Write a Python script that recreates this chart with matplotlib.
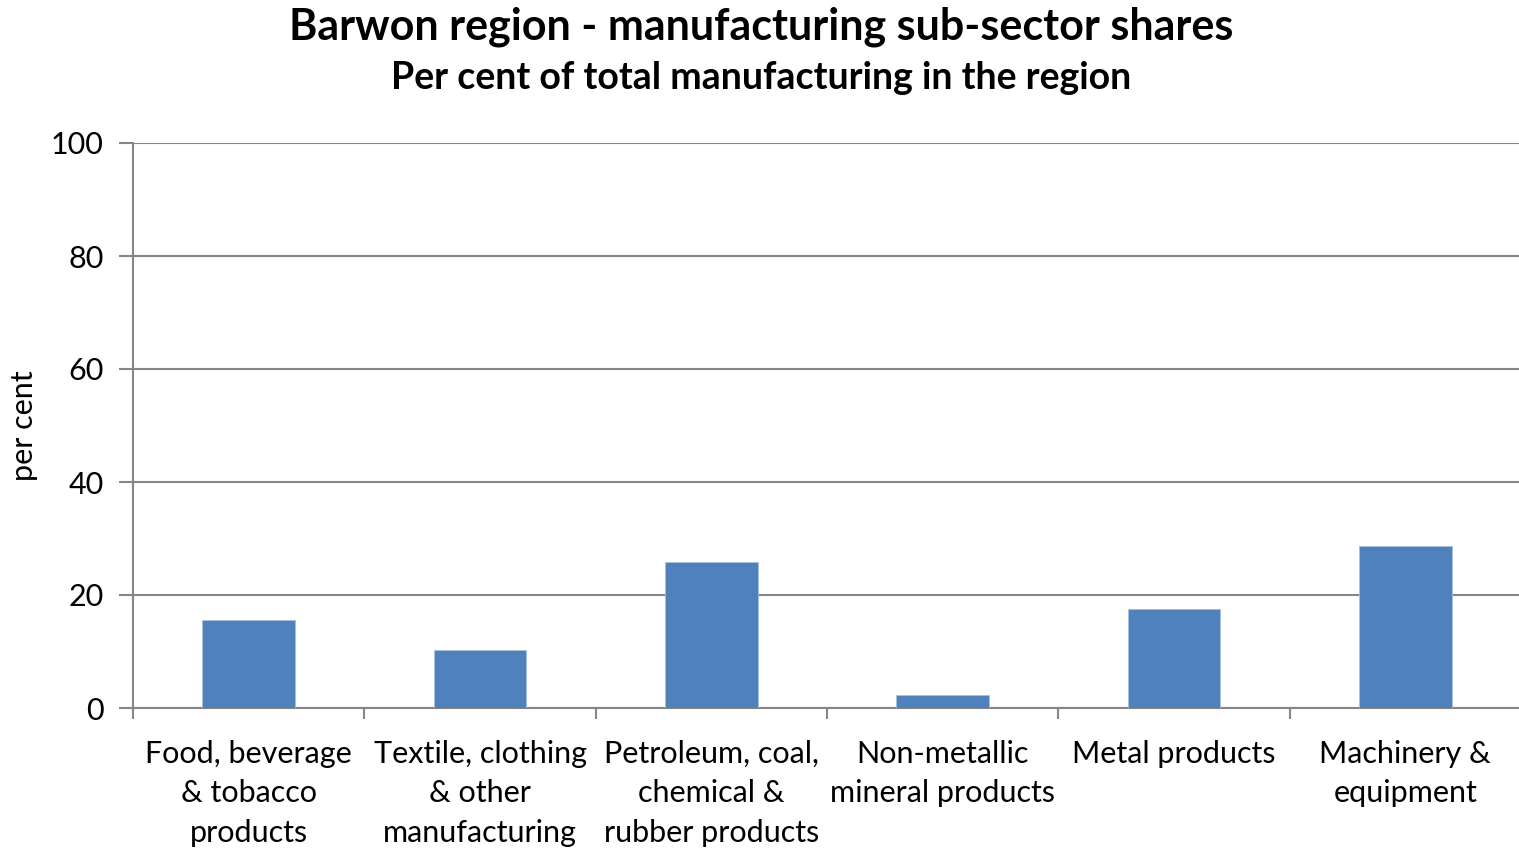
import matplotlib
matplotlib.use("Agg")
import matplotlib.pyplot as plt
import numpy as np

categories = [
    "Food, beverage\n& tobacco\nproducts",
    "Textile, clothing\n& other\nmanufacturing",
    "Petroleum, coal,\nchemical &\nrubber products",
    "Non-metallic\nmineral products",
    "Metal products",
    "Machinery &\nequipment",
]
shares = [15.5, 10.2, 25.9, 2.3, 17.6, 28.6]
y_ticks = [0, 20, 40, 60, 80, 100]

plt.rcParams["font.family"] = ["Lato", "DejaVu Sans"]

fig = plt.figure(figsize=(15.19, 8.48), dpi=100)
ax = fig.add_axes([133 / 1519, 1 - 708 / 848, (1521 - 133) / 1519, (708 - 143) / 848])

x = np.arange(len(categories))
ax.bar(x, shares, width=0.4, color="#4F81BD", edgecolor="#A7C0DE", linewidth=0.6, zorder=3)

grid_c = "#868686"
ax.set_xlim(-0.5, len(categories) - 0.5)
ax.set_ylim(0, 100)
ax.set_yticks(y_ticks)
ax.set_yticklabels([str(v) for v in y_ticks], fontsize=22)
ax.yaxis.grid(True, color=grid_c, linewidth=1.5, zorder=0)
ax.set_xticks(np.arange(len(categories) + 1) - 0.5, minor=True)
ax.set_xticks(x)
ax.set_xticklabels(categories, fontsize=22, linespacing=1.5)
ax.tick_params(axis="x", which="major", length=0, pad=23)
ax.tick_params(axis="x", which="minor", length=8, width=1.5, color=grid_c)
ax.tick_params(axis="y", length=10, width=1.5, color=grid_c, pad=11)
for side in ["top", "right"]:
    ax.spines[side].set_visible(False)
for side in ["left", "bottom"]:
    ax.spines[side].set_color(grid_c)
    ax.spines[side].set_linewidth(1.5)
ax.set_ylabel("per cent", fontsize=22, labelpad=9)

fig.text(0.501, 1 - 27 / 848, "Barwon region - manufacturing sub-sector shares",
         ha="center", va="center", fontsize=31, fontweight="bold")
fig.text(0.501, 1 - 78 / 848, "Per cent of total manufacturing in the region",
         ha="center", va="center", fontsize=27, fontweight="bold")

fig.savefig("out.png", dpi=100)
